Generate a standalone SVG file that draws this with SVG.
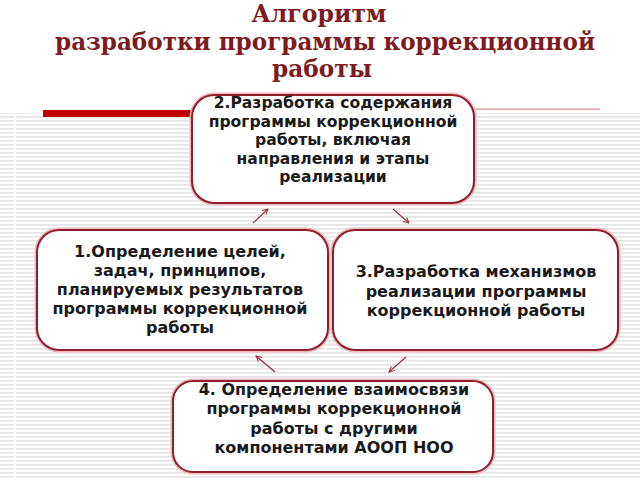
<svg xmlns="http://www.w3.org/2000/svg" width="640" height="480" viewBox="0 0 640 480">
<defs>
<pattern id="stripes" x="0" y="0" width="8" height="4" patternUnits="userSpaceOnUse">
<rect x="0" y="0" width="8" height="4" fill="#ffffff"/>
<rect x="0" y="0" width="8" height="1.6" fill="#e4e4e4"/>
</pattern>
<marker id="ah" viewBox="0 0 10 10" refX="9" refY="5" markerWidth="7" markerHeight="7" orient="auto" markerUnits="userSpaceOnUse">
<path d="M1,1 L9,5 L1,9" fill="none" stroke="#a0303e" stroke-width="1.4"/>
</marker>
</defs>
<style>
.title{font-family:"DejaVu Serif","Liberation Serif",serif;font-weight:bold;font-size:24px;fill:#7d1b1f;text-anchor:middle}
.glow{fill:none;stroke:#f2b9bf;stroke-width:5}
.box{fill:#ffffff;stroke:#8e1f2d;stroke-width:2}
.t{font-family:"DejaVu Sans","Verdana",sans-serif;font-weight:bold;font-size:16px;fill:#1a1a1a;text-anchor:middle}
.conn{stroke:#a0303e;stroke-width:1.2;fill:none}
</style>
<rect x="0" y="0" width="640" height="480" fill="#ffffff"/>
<rect x="0" y="113" width="640" height="367" fill="url(#stripes)"/>
<rect x="14" y="113" width="2" height="367" fill="#ffffff" opacity="0.7"/>
<g id="title">
<text class="title" x="319" y="22" textLength="135" lengthAdjust="spacingAndGlyphs">Алгоритм</text>
<text class="title" x="325" y="50" textLength="540" lengthAdjust="spacingAndGlyphs">разработки программы коррекционной</text>
<text class="title" x="322" y="77" textLength="100" lengthAdjust="spacingAndGlyphs">работы</text>
</g>
<g id="header-rule">
<rect x="43" y="110" width="152" height="7" fill="#c00000"/>
<rect x="195" y="108.5" width="405" height="1.2" fill="#d58a8f"/>
</g>
<g id="connectors">
<line class="conn" x1="253" y1="223" x2="268" y2="209" marker-end="url(#ah)"/>
<line class="conn" x1="393" y1="209" x2="409" y2="223" marker-end="url(#ah)"/>
<line class="conn" x1="406" y1="357" x2="389" y2="372" marker-end="url(#ah)"/>
<line class="conn" x1="275" y1="372" x2="256" y2="356" marker-end="url(#ah)"/>
</g>
<g id="node2">
<rect class="glow" x="192" y="95" width="282" height="108" rx="22"/>
<rect class="box" x="192" y="95" width="282" height="108" rx="22"/>
<text class="t" x="333" y="108" style="font-size:15.6px">2.Разработка содержания</text>
<text class="t" x="333" y="126.5" style="font-size:15.6px">программы коррекционной</text>
<text class="t" x="333" y="145" style="font-size:15.6px">работы, включая</text>
<text class="t" x="333" y="163.5" style="font-size:15.6px">направления и этапы</text>
<text class="t" x="333" y="182" style="font-size:15.6px">реализации</text>
</g>
<g id="node1">
<rect class="glow" x="37" y="230" width="291" height="120" rx="22"/>
<rect class="box" x="37" y="230" width="291" height="120" rx="22"/>
<text class="t" x="180" y="257">1.Определение целей,</text>
<text class="t" x="180" y="276">задач, принципов,</text>
<text class="t" x="180" y="295">планируемых результатов</text>
<text class="t" x="180" y="314">программы коррекционной</text>
<text class="t" x="180" y="333">работы</text>
</g>
<g id="node3">
<rect class="glow" x="333" y="230" width="285" height="120" rx="22"/>
<rect class="box" x="333" y="230" width="285" height="120" rx="22"/>
<text class="t" x="476" y="277">3.Разработка механизмов</text>
<text class="t" x="476" y="296.5">реализации программы</text>
<text class="t" x="476" y="316">коррекционной работы</text>
</g>
<g id="node4">
<rect class="glow" x="173" y="381" width="320" height="91" rx="20"/>
<rect class="box" x="173" y="381" width="320" height="91" rx="20"/>
<text class="t" x="334" y="394.5">4. Определение взаимосвязи</text>
<text class="t" x="334" y="414">программы коррекционной</text>
<text class="t" x="334" y="433.5">работы с другими</text>
<text class="t" x="334" y="453">компонентами АООП НОО</text>
</g>
</svg>
